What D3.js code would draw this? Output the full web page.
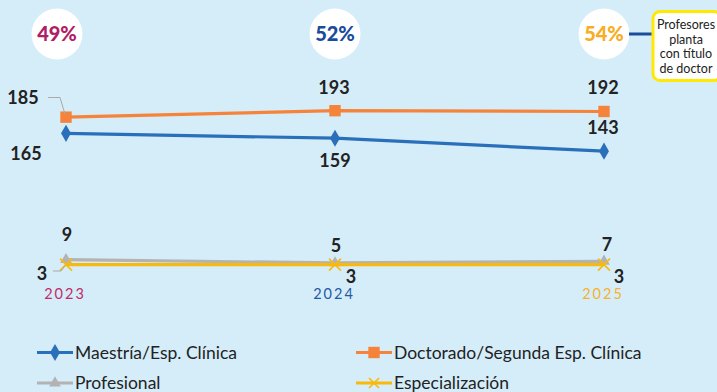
<!DOCTYPE html>
<html>
<head>
<meta charset="utf-8">
<script src="https://cdn.jsdelivr.net/npm/d3@7"></script>
<style>
  html, body { margin: 0; padding: 0; background: #d5edf9; }
  svg { display: block; font-family: "Lato", "DejaVu Sans", sans-serif; }
</style>
</head>
<body>
<svg id="chart" width="717" height="392"></svg>
<script>
// Profesores de planta por nivel de formación, 2023–2025
const years = ["2023", "2024", "2025"];
const maestria = [165, 159, 143];
const doctorado = [185, 193, 192];
const profesional = [9, 5, 7];
const especializacion = [3, 3, 3];
const pctDoctor = ["49%", "52%", "54%"];
const seriesNames = ["Maestría/Esp. Clínica", "Doctorado/Segunda Esp. Clínica", "Profesional", "Especialización"];
const calloutLines = ["Profesores", "planta", "con título", "de doctor"];

const yearColors = ["#c22a6b", "#2458a6", "#f7b12c"];
const pctColors = ["#b01f66", "#1a4c9c", "#f8ad22"];

const svg = d3.select("#chart");

const x = d3.scalePoint().domain(years).range([66, 604]);
const y = d3.scaleLinear().domain([0, 250]).range([267, 64.5]);

const series = [
  { name: seriesNames[0], values: maestria, color: "#2a6fba", symbol: d3.symbolDiamond, size: 85,
    labels: [[-40, 27], [0, 29], [-1, -17]] },
  { name: seriesNames[1], values: doctorado, color: "#f5843a", symbol: d3.symbolSquare, size: 130,
    labels: [[-43, -13], [-1, -17], [-1, -17]] },
  { name: seriesNames[2], values: profesional, color: "#b3b3b3", symbol: d3.symbolTriangle, size: 60,
    labels: [[1, -19], [1, -11], [3, -10]] },
  { name: seriesNames[3], values: especializacion, color: "#f9b90c", symbol: d3.symbolCross, size: 0,
    labels: [[-24, 15], [16, 18], [15, 18]] }
];

// Year labels under the lines
svg.append("g").selectAll("text").data(years).join("text")
  .attr("x", d => x(d) - 1)
  .attr("y", 299)
  .attr("text-anchor", "middle")
  .attr("font-size", 14.5)
  .attr("letter-spacing", 2)
  .attr("fill", (d, i) => yearColors[i])
  .text(d => d);

// Percentage badges
const badgeDx = [-9, 0, 0];
const badges = svg.append("g").selectAll("g").data(years).join("g")
  .attr("transform", (d, i) => `translate(${x(d) + badgeDx[i]},${34})`);
badges.append("circle").attr("r", 25.5).attr("fill", "#ffffff");
badges.append("text")
  .attr("text-anchor", "middle")
  .attr("y", 7)
  .attr("font-size", 20)
  .attr("font-weight", 900)
  .attr("fill", (d, i) => pctColors[i])
  .text((d, i) => pctDoctor[i]);

// Callout box
svg.append("line")
  .attr("x1", x(years[2]) + 25).attr("x2", 653)
  .attr("y1", 34).attr("y2", 34)
  .attr("stroke", "#1a4c9c").attr("stroke-width", 3);
svg.append("rect")
  .attr("x", 653).attr("y", 11.5).attr("width", 68).attr("height", 69)
  .attr("rx", 7)
  .attr("fill", "#ffffff").attr("stroke", "#ffe900").attr("stroke-width", 3);
svg.append("g").selectAll("text").data(calloutLines).join("text")
  .attr("x", 686).attr("y", (d, i) => 29 + i * 14.7)
  .attr("text-anchor", "middle")
  .attr("font-size", 12.5)
  .attr("fill", "#222")
  .text(d => d);

// Lines
const line = d3.line().x((d, i) => x(years[i])).y(d => y(d));
const drawOrder = [2, 3, 1, 0];

function xMark(g, color, r) {
  g.append("path")
    .attr("d", `M${-r},${-r}L${r},${r}M${-r},${r}L${r},${-r}`)
    .attr("stroke", color).attr("stroke-width", 1.6).attr("fill", "none");
}

drawOrder.forEach(si => {
  const s = series[si];
  svg.append("path")
    .datum(s.values)
    .attr("d", line)
    .attr("fill", "none")
    .attr("stroke", s.color)
    .attr("stroke-width", 3.2);
  const pts = svg.append("g").selectAll("g").data(s.values).join("g")
    .attr("transform", (d, i) => `translate(${x(years[i])},${y(d)})`);
  if (s.symbol === d3.symbolCross) {
    pts.each(function () { xMark(d3.select(this), s.color, 6); });
  } else {
    pts.append("path")
      .attr("d", d3.symbol().type(s.symbol).size(s.size))
      .attr("fill", s.color);
  }
});

// Leader lines for the 2023 labels that sit off to the side
svg.append("path")
  .attr("d", `M48,97.5H60L${x(years[0]) - 1},${y(doctorado[0]) - 3}`)
  .attr("fill", "none").attr("stroke", "#a9a9a9").attr("stroke-width", 1);
svg.append("path")
  .attr("d", `M53,271H61L${x(years[0]) - 1},${y(especializacion[0]) + 1}`)
  .attr("fill", "none").attr("stroke", "#a9a9a9").attr("stroke-width", 1);

// Value labels
series.forEach(s => {
  svg.append("g").selectAll("text").data(s.values).join("text")
    .attr("x", (d, i) => x(years[i]) + s.labels[i][0])
    .attr("y", (d, i) => y(d) + s.labels[i][1])
    .attr("text-anchor", "middle")
    .attr("font-size", 18)
    .attr("font-weight", 700)
    .attr("fill", "#222")
    .text(d => d);
});

// Legend
const legendPos = [[37, 352.5], [356, 352.5], [37, 383], [356, 383]];
const legend = svg.append("g").selectAll("g").data(series).join("g")
  .attr("transform", (d, i) => `translate(${legendPos[i][0]},${legendPos[i][1]})`);
legend.append("line")
  .attr("x1", 0).attr("x2", 36)
  .attr("stroke", d => d.color).attr("stroke-width", 3);
legend.each(function (s) {
  const g = d3.select(this).append("g").attr("transform", "translate(18,0)");
  if (s.symbol === d3.symbolCross) xMark(g, s.color, 5);
  else g.append("path").attr("d", d3.symbol().type(s.symbol).size(s.size)).attr("fill", s.color);
});
legend.append("text")
  .attr("x", 38).attr("y", 6)
  .attr("font-size", 17.5)
  .attr("fill", "#222")
  .text(d => d.name);
</script>
</body>
</html>
